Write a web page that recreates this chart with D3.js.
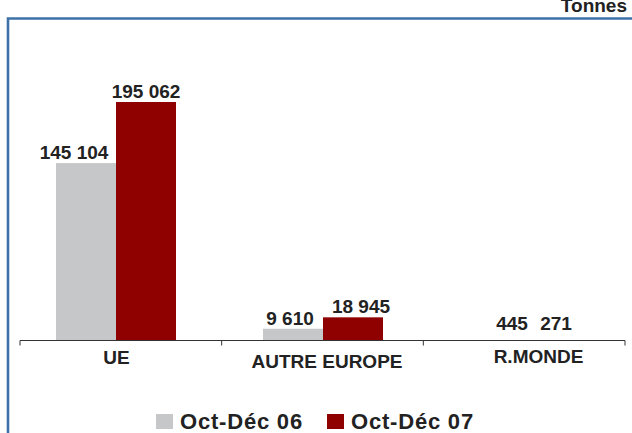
<!DOCTYPE html>
<html>
<head>
<meta charset="utf-8">
<script src="https://cdn.jsdelivr.net/npm/d3@7"></script>
<style>
  body { margin: 0; background: #fff; }
  text { font-family: "Liberation Sans", Arial, sans-serif; font-weight: bold; fill: #222; }
</style>
</head>
<body>
<div id="chart"></div>
<script>
var categories = ['UE', 'AUTRE EUROPE', 'R.MONDE'];
var seriesNames = ['Oct-Déc 06', 'Oct-Déc 07'];
var values06 = [145104, 9610, 445];
var values07 = [195062, 18945, 271];
var valueLabels06 = ['145 104', '9 610', '445'];
var valueLabels07 = ['195 062', '18 945', '271'];
var colors = ['#c6c7c9', '#8f0000'];
// hand-placed label nudges from the original sheet
var nudge06 = [-12, -3, 12];
var nudge07 = [0, 8, -4];
var catLabelY = [364, 368, 363];

var W = 632, H = 433;
var svg = d3.select('#chart').append('svg')
  .attr('width', W).attr('height', H);

// frame
svg.append('path')
  .attr('d', 'M8,' + H + ' L8,18.5 L' + W + ',18.5')
  .attr('fill', 'none')
  .attr('stroke', '#3d72a8')
  .attr('stroke-width', 2.6);

svg.append('text')
  .attr('x', 627).attr('y', 12)
  .attr('text-anchor', 'end')
  .style('font-size', '19px')
  .text('Tonnes');

var baseY = 340.5;
var tickScale = d3.scaleBand().domain(categories).range([20, 625]);
var x = d3.scalePoint().domain(categories).range([116, 530]);
var y = d3.scaleLinear().domain([0, 195062]).range([baseY, 102]);
var xs = d3.scaleBand().domain([0, 1]).range([-60, 60]);

var groups = svg.selectAll('g.cat')
  .data(categories)
  .enter().append('g')
  .attr('class', 'cat')
  .attr('transform', function(d) { return 'translate(' + x(d) + ',0)'; });

groups.each(function(c, i) {
  var g = d3.select(this);
  var vals = [values06[i], values07[i]];
  var labs = [valueLabels06[i], valueLabels07[i]];
  var nud = [nudge06[i], nudge07[i]];
  vals.forEach(function(v, k) {
    g.append('rect')
      .attr('x', xs(k))
      .attr('y', y(v))
      .attr('width', xs.bandwidth())
      .attr('height', baseY - y(v))
      .attr('fill', colors[k]);
  });
  vals.forEach(function(v, k) {
    g.append('text')
      .attr('x', xs(k) + xs.bandwidth() / 2 + nud[k])
      .attr('y', Math.min(y(v) - 4, 330))
      .attr('text-anchor', 'middle')
      .style('font-size', '19px')
      .text(labs[k]);
  });
});

// axis
var axis = svg.append('g').attr('transform', 'translate(0,' + baseY + ')');
axis.append('line')
  .attr('x1', tickScale.range()[0]).attr('x2', tickScale.range()[1])
  .attr('stroke', '#333').attr('stroke-width', 1.2);
var tickPos = categories.map(function(c) { return tickScale(c); }).concat([tickScale.range()[1]]);
axis.selectAll('line.tick')
  .data(tickPos)
  .enter().append('line')
  .attr('class', 'tick')
  .attr('x1', function(d) { return d; }).attr('x2', function(d) { return d; })
  .attr('y1', 0).attr('y2', 5)
  .attr('stroke', '#333');

svg.selectAll('text.catlab')
  .data(categories)
  .enter().append('text')
  .attr('class', 'catlab')
  .attr('x', function(d, i) { return x(d) + [0.5, 4, 8.5][i]; })
  .attr('y', function(d, i) { return catLabelY[i]; })
  .attr('text-anchor', 'middle')
  .style('font-size', '19px')
  .text(function(d) { return d; });

// legend
var legend = svg.append('g');
var legX = [156, 327];
seriesNames.forEach(function(s, k) {
  legend.append('rect')
    .attr('x', legX[k]).attr('y', 414)
    .attr('width', 17).attr('height', 15)
    .attr('fill', colors[k]);
  legend.append('text')
    .attr('x', legX[k] + 24).attr('y', 429)
    .style('font-size', '22px')
    .style('letter-spacing', '0.8px')
    .text(s);
});
</script>
</body>
</html>
